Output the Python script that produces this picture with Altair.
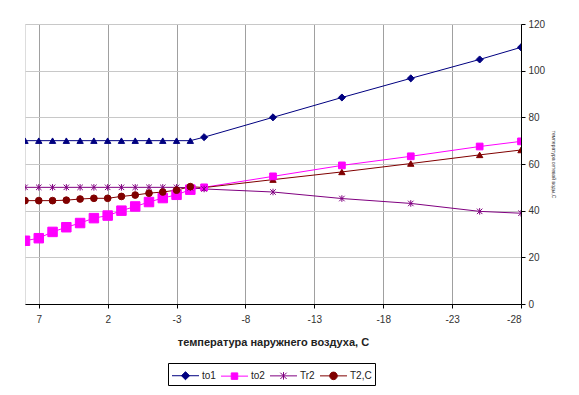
import altair as alt
import pandas as pd

# ---- data ----
temps = [8, 7, 6, 5, 4, 3, 2, 1, 0, -1, -2, -3, -4, -5, -10, -15, -20, -25, -28]
to1 = [70, 70, 70, 70, 70, 70, 70, 70, 70, 70, 70, 70, 70, 71.5, 80, 88.5, 96.7, 104.8, 110]
to2 = [27.1, 28.2, 30.9, 32.9, 34.7, 36.8, 37.9, 40.0, 41.8, 43.7, 45.4, 46.8, 49.0, 50.0, 54.7, 59.4, 63.3, 67.5, 69.7]
tr2 = [50, 50, 50, 50, 50, 50, 50, 50, 50, 50, 50, 50, 49.8, 49.3, 48.0, 45.2, 43.1, 39.7, 38.9]
t2c = [44.3, 44.3, 44.3, 44.5, 45.0, 45.3, 45.3, 46.1, 46.7, 47.5, 48.0, 48.8, 50.3, 49.9, 53.3, 56.6, 60.2, 63.9, 66.0]

series_names = ["to1", "to2", "Tr2", "T2,C"]
series_values = [to1, to2, tr2, t2c]
colors = ["#000080", "#ff00ff", "#800080", "#800000"]

x_ticks = [7, 2, -3, -8, -13, -18, -23, -28]
y_ticks = [0, 20, 40, 60, 80, 100, 120]

# ---- styles ----
BREAK = -4  # marker style changes after this temperature
STAR = "M-1,-1L1,1M-1,1L1,-1M0,-1.2V1.2"


def marker(name, t):
    left = t >= BREAK
    if name == "to1":
        return ("triangle-up", 40) if left else ("diamond", 50)
    if name == "to2":
        return ("square", 90) if left else ("square", 45)
    if name == "Tr2":
        return (STAR, 30)
    return ("circle", 45) if left else ("triangle-up", 40)


rows = []
for name, vals in zip(series_names, series_values):
    for t, v in zip(temps, vals):
        shp, sz = marker(name, t)
        rows.append({"t": t, "v": v, "series": name, "marker": shp, "msize": sz,
                     "mkey": f"{shp}|{sz}"})
df = pd.DataFrame(rows)

# legend symbols: a line with the series marker (unit box scaled by sqrt(symbolSize)/2)
legend_paths = [
    "M-1.5,0H1.5M0,-0.45L0.45,0L0,0.45L-0.45,0Z",
    "M-1.5,0H1.5M-0.36,-0.36H0.36V0.36H-0.36Z",
    "M-1.5,0H1.5M-0.35,-0.35L0.35,0.35M-0.35,0.35L0.35,-0.35M0,-0.42V0.42",
    "M-1.5,0H1.5M-0.42,0A0.42,0.42 0 1,0 0.42,0A0.42,0.42 0 1,0 -0.42,0Z",
]

cscale = alt.Scale(domain=series_names, range=colors)

x_enc = alt.X(
    "t:Q",
    scale=alt.Scale(domain=[8, -28], nice=False, zero=False),
    axis=alt.Axis(
        values=x_ticks,
        labelExpr="'' + datum.value",
        title="температура наружнего воздуха, С",
        grid=True,
        gridColor="#a0a0a0",
        domainColor="#000000",
        tickColor="#000000",
        tickSize=4,
        labelFontSize=10,
        labelColor="#333333",
        labelPadding=6,
        labelFont="Liberation Sans",
        titleFont="Liberation Sans",
        titleFontSize=11,
        titleFontWeight="bold",
        titleColor="#222222",
        titlePadding=12,
    ),
)
y_enc = alt.Y(
    "v:Q",
    scale=alt.Scale(domain=[0, 120], nice=False),
    axis=alt.Axis(
        orient="right",
        values=y_ticks,
        title="температура сетевой воды,С",
        titleFontSize=5,
        titleFontWeight="normal",
        titleAngle=90,
        titleColor="#333333",
        titlePadding=6,
        grid=True,
        gridColor="#c8c8c8",
        domainColor="#000000",
        tickColor="#000000",
        tickSize=4,
        labelFontSize=10,
        labelColor="#333333",
        labelFont="Liberation Sans",
        labelPadding=3,
    ),
)

leg = alt.Legend(
    title=None,
    orient="none",
    legendX=143,
    legendY=339,
    direction="horizontal",
    strokeColor="#000000",
    padding=3,
    labelFontSize=10,
    labelFont="Liberation Sans",
    labelColor="#222222",
    labelOffset=7,
    columnPadding=3,
    symbolOffset=5,
    symbolSize=324,
    symbolStrokeWidth=1,
    symbolOpacity=1,
)

col = alt.Color("series:N", scale=cscale, legend=leg)

lines = alt.Chart(df).mark_line(strokeWidth=1, clip=True).encode(
    x=x_enc,
    y=y_enc,
    color=col,
    detail="series:N",
)

point_layers = []
for key in df["mkey"].unique():
    shp, sz = key.split("|")
    point_layers.append(
        alt.Chart(df)
        .transform_filter(alt.datum.mkey == key)
        .mark_point(filled=True, strokeWidth=1, opacity=1, shape=shp, size=int(sz), clip=True)
        .encode(
            x=x_enc,
            y=y_enc,
            color=col,
            stroke=alt.Stroke("series:N", scale=cscale, legend=None),
        )
    )

# legend only: no marks drawn, the legend comes from the explicit scale domain
legend_layer = alt.Chart(df).transform_filter("false").mark_point(
    filled=True, strokeWidth=1, opacity=1, size=324, clip=True
).encode(
    x=x_enc,
    y=y_enc,
    color=col,
    stroke=alt.Stroke("series:N", scale=cscale, legend=leg),
    shape=alt.Shape("series:N", scale=alt.Scale(domain=series_names, range=legend_paths), legend=leg),
)

chart = (
    alt.layer(lines, *point_layers, legend_layer)
    .properties(width=496, height=280, padding={"left": 17, "top": 11, "right": 5, "bottom": 5})
    .configure_view(stroke="#808080", strokeWidth=1, fill="#ffffff")
    .configure(background="#ffffff")
)

chart.save("out.html", embed_options={"renderer": "svg", "actions": False})
